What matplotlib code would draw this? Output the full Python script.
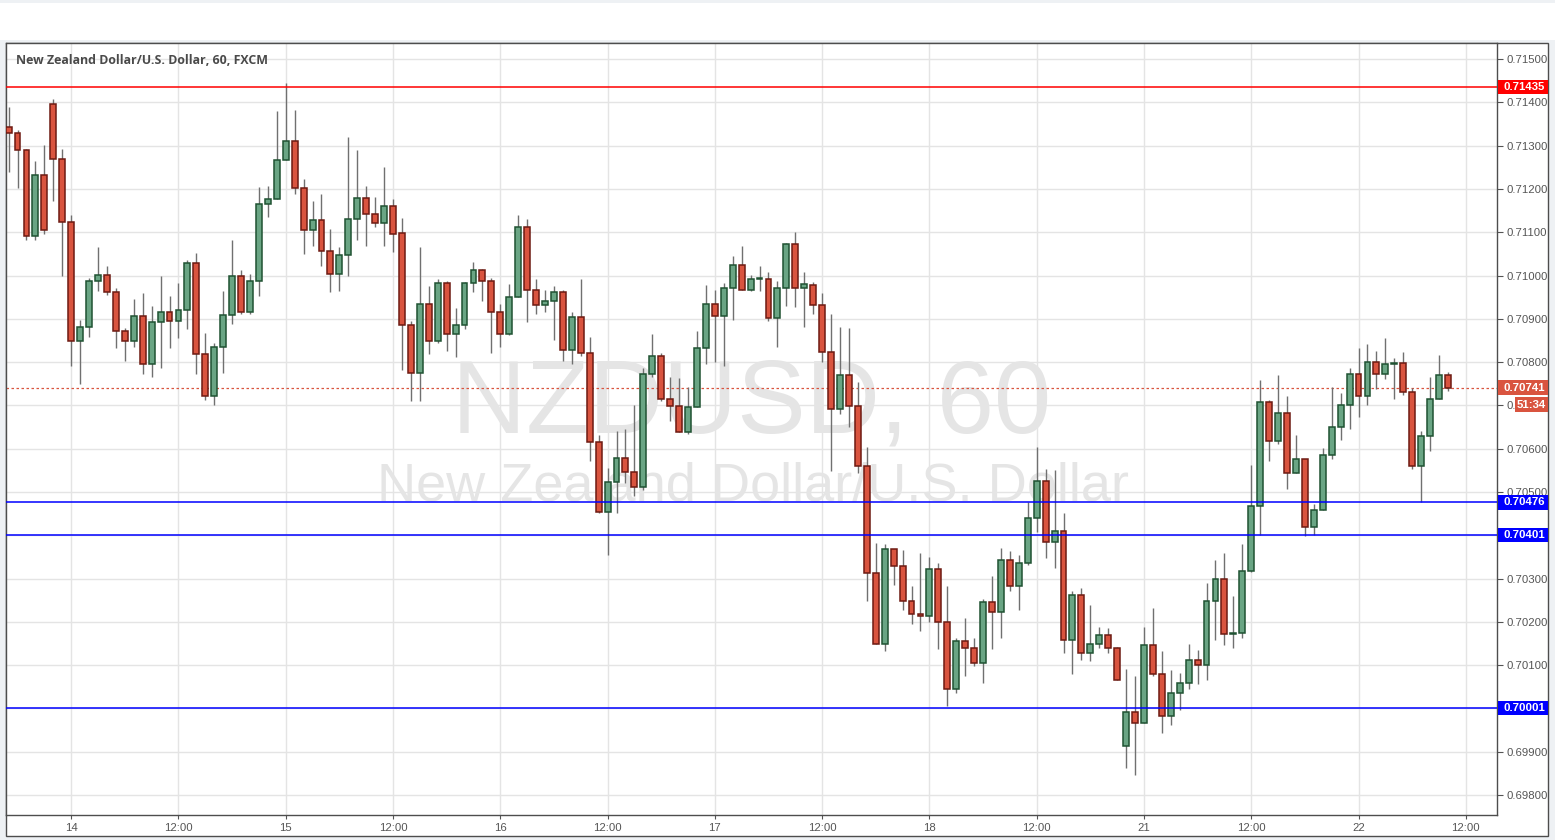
import matplotlib
matplotlib.use("Agg")
import matplotlib.pyplot as plt
from matplotlib.patches import Rectangle
from matplotlib.transforms import blended_transform_factory
import numpy as np

# ---------------- data (NZD/USD, 1h, FXCM) ----------------
opens = [0.71342, 0.71328, 0.71289, 0.71091, 0.71232, 0.71395, 0.71268, 0.71123, 0.70849, 0.70881,
         0.70987, 0.71001, 0.70962, 0.70872, 0.70849, 0.70906, 0.70796, 0.70892, 0.70916, 0.70895,
         0.70920, 0.71029, 0.70819, 0.70722, 0.70835, 0.70909, 0.70999, 0.70916, 0.70987, 0.71165,
         0.71176, 0.71266, 0.71310, 0.71202, 0.71105, 0.71128, 0.71056, 0.71003, 0.71047, 0.71130,
         0.71178, 0.71142, 0.71121, 0.71160, 0.71098, 0.70885, 0.70775, 0.70934, 0.70849, 0.70982,
         0.70865, 0.70885, 0.70982, 0.71012, 0.70987, 0.70915, 0.70865, 0.70950, 0.71112, 0.70966,
         0.70932, 0.70941, 0.70962, 0.70828, 0.70904, 0.70821, 0.70615, 0.70454, 0.70523, 0.70579,
         0.70546, 0.70512, 0.70772, 0.70814, 0.70715, 0.70699, 0.70639, 0.70696, 0.70832, 0.70934,
         0.70906, 0.70971, 0.71024, 0.70966, 0.70992, 0.70992, 0.70902, 0.70971, 0.71072, 0.70970,
         0.70978, 0.70932, 0.70824, 0.70692, 0.70771, 0.70699, 0.70561, 0.70312, 0.70150, 0.70369,
         0.70328, 0.70249, 0.70219, 0.70213, 0.70323, 0.70199, 0.70046, 0.70157, 0.70139, 0.70106,
         0.70245, 0.70222, 0.70342, 0.70282, 0.70335, 0.70441, 0.70526, 0.70385, 0.70409, 0.70159,
         0.70263, 0.70127, 0.70150, 0.70169, 0.70139, 0.69913, 0.69991, 0.69966, 0.70146, 0.70079,
         0.69982, 0.70035, 0.70058, 0.70111, 0.70101, 0.70249, 0.70299, 0.70172, 0.70174, 0.70318,
         0.70468, 0.70708, 0.70618, 0.70682, 0.70544, 0.70576, 0.70419, 0.70459, 0.70585, 0.70650,
         0.70701, 0.70772, 0.70722, 0.70800, 0.70772, 0.70795, 0.70798, 0.70731, 0.70560, 0.70629,
         0.70715, 0.70770]
highs = [0.71390, 0.71336, 0.71292, 0.71265, 0.71302, 0.71408, 0.71292, 0.71140, 0.70898, 0.70995,
         0.71066, 0.71022, 0.70972, 0.70879, 0.70946, 0.70960, 0.70930, 0.70999, 0.70953, 0.70983,
         0.71036, 0.71052, 0.70868, 0.70845, 0.70965, 0.71082, 0.71013, 0.71004, 0.71205, 0.71207,
         0.71380, 0.71444, 0.71382, 0.71223, 0.71172, 0.71188, 0.71108, 0.71066, 0.71319, 0.71290,
         0.71207, 0.71182, 0.71250, 0.71177, 0.71133, 0.70895, 0.71066, 0.70976, 0.70992, 0.70988,
         0.70925, 0.70985, 0.71032, 0.71015, 0.70995, 0.70935, 0.70981, 0.71140, 0.71131, 0.70992,
         0.70967, 0.70976, 0.70967, 0.70915, 0.70992, 0.70859, 0.70632, 0.70556, 0.70642, 0.70646,
         0.70701, 0.70786, 0.70865, 0.70821, 0.70765, 0.70763, 0.70742, 0.70872, 0.70978, 0.70967,
         0.70983, 0.71045, 0.71068, 0.71001, 0.71022, 0.71008, 0.70987, 0.71075, 0.71101, 0.71007,
         0.70985, 0.70960, 0.70910, 0.70882, 0.70878, 0.70753, 0.70603, 0.70382, 0.70379, 0.70369,
         0.70365, 0.70284, 0.70358, 0.70349, 0.70335, 0.70282, 0.70162, 0.70208, 0.70162, 0.70254,
         0.70305, 0.70371, 0.70363, 0.70354, 0.70478, 0.70603, 0.70552, 0.70550, 0.70451, 0.70272,
         0.70279, 0.70239, 0.70189, 0.70185, 0.70143, 0.70092, 0.70074, 0.70189, 0.70231, 0.70132,
         0.70089, 0.70081, 0.70150, 0.70134, 0.70290, 0.70342, 0.70358, 0.70259, 0.70381, 0.70563,
         0.70759, 0.70712, 0.70771, 0.70722, 0.70632, 0.70576, 0.70472, 0.70602, 0.70742, 0.70728,
         0.70786, 0.70832, 0.70842, 0.70825, 0.70855, 0.70809, 0.70823, 0.70740, 0.70641, 0.70765,
         0.70817, 0.70776]
lows = [0.71240, 0.71201, 0.71083, 0.71083, 0.71095, 0.71173, 0.71000, 0.70792, 0.70749, 0.70859,
        0.70965, 0.70955, 0.70832, 0.70802, 0.70836, 0.70772, 0.70765, 0.70786, 0.70832, 0.70855,
        0.70876, 0.70772, 0.70712, 0.70701, 0.70774, 0.70889, 0.70912, 0.70912, 0.70952, 0.71134,
        0.71176, 0.71266, 0.71189, 0.71049, 0.71069, 0.71023, 0.70963, 0.70965, 0.70998, 0.71082,
        0.71067, 0.71113, 0.71067, 0.71055, 0.70781, 0.70710, 0.70710, 0.70818, 0.70844, 0.70825,
        0.70811, 0.70877, 0.70962, 0.70942, 0.70822, 0.70834, 0.70862, 0.70950, 0.70892, 0.70910,
        0.70915, 0.70852, 0.70802, 0.70795, 0.70815, 0.70571, 0.70452, 0.70354, 0.70451, 0.70521,
        0.70490, 0.70505, 0.70765, 0.70710, 0.70664, 0.70639, 0.70634, 0.70696, 0.70795, 0.70800,
        0.70791, 0.70897, 0.70966, 0.70964, 0.70964, 0.70895, 0.70835, 0.70929, 0.70928, 0.70882,
        0.70912, 0.70800, 0.70549, 0.70680, 0.70650, 0.70544, 0.70249, 0.70150, 0.70133, 0.70286,
        0.70228, 0.70196, 0.70179, 0.70200, 0.70138, 0.70006, 0.70036, 0.70076, 0.70099, 0.70059,
        0.70138, 0.70163, 0.70272, 0.70228, 0.70332, 0.70408, 0.70348, 0.70325, 0.70129, 0.70080,
        0.70113, 0.70110, 0.70139, 0.70129, 0.70065, 0.69863, 0.69847, 0.69966, 0.70074, 0.69943,
        0.69963, 0.69996, 0.70044, 0.70056, 0.70066, 0.70158, 0.70146, 0.70139, 0.70162, 0.70316,
        0.70401, 0.70571, 0.70610, 0.70506, 0.70544, 0.70399, 0.70401, 0.70459, 0.70576, 0.70620,
        0.70645, 0.70673, 0.70701, 0.70738, 0.70761, 0.70715, 0.70724, 0.70553, 0.70477, 0.70595,
        0.70715, 0.70733]
closes = [0.71328, 0.71289, 0.71091, 0.71232, 0.71105, 0.71268, 0.71123, 0.70849, 0.70881, 0.70987,
          0.71001, 0.70962, 0.70872, 0.70849, 0.70906, 0.70796, 0.70892, 0.70916, 0.70895, 0.70920,
          0.71029, 0.70819, 0.70722, 0.70835, 0.70909, 0.70999, 0.70916, 0.70987, 0.71165, 0.71176,
          0.71266, 0.71310, 0.71202, 0.71105, 0.71128, 0.71056, 0.71003, 0.71047, 0.71130, 0.71178,
          0.71142, 0.71121, 0.71160, 0.71097, 0.70885, 0.70775, 0.70934, 0.70849, 0.70982, 0.70865,
          0.70885, 0.70982, 0.71012, 0.70987, 0.70915, 0.70865, 0.70950, 0.71112, 0.70966, 0.70932,
          0.70941, 0.70962, 0.70828, 0.70904, 0.70821, 0.70615, 0.70454, 0.70523, 0.70579, 0.70546,
          0.70512, 0.70772, 0.70814, 0.70715, 0.70699, 0.70639, 0.70696, 0.70832, 0.70934, 0.70906,
          0.70971, 0.71024, 0.70966, 0.70992, 0.70993, 0.70902, 0.70971, 0.71072, 0.70970, 0.70980,
          0.70932, 0.70824, 0.70692, 0.70771, 0.70699, 0.70561, 0.70312, 0.70150, 0.70369, 0.70328,
          0.70249, 0.70219, 0.70213, 0.70323, 0.70199, 0.70046, 0.70157, 0.70139, 0.70106, 0.70245,
          0.70222, 0.70342, 0.70282, 0.70335, 0.70441, 0.70526, 0.70385, 0.70409, 0.70159, 0.70263,
          0.70127, 0.70150, 0.70169, 0.70139, 0.70065, 0.69991, 0.69966, 0.70146, 0.70079, 0.69982,
          0.70035, 0.70058, 0.70111, 0.70101, 0.70249, 0.70299, 0.70172, 0.70174, 0.70318, 0.70468,
          0.70708, 0.70618, 0.70682, 0.70544, 0.70576, 0.70419, 0.70459, 0.70585, 0.70650, 0.70701,
          0.70772, 0.70722, 0.70800, 0.70772, 0.70795, 0.70798, 0.70731, 0.70560, 0.70629, 0.70715,
          0.70770, 0.70741]

# time axis: bar index of each label (Sunday 13th 17:00 = bar 0, weekend skipped)
time_tick_bars = [7, 19, 31, 43, 55, 67, 79, 91, 103, 115, 127, 139, 151, 163]
time_tick_labels = ["14", "12:00", "15", "12:00", "16", "12:00", "17", "12:00",
                    "18", "12:00", "21", "12:00", "22", "12:00"]

price_ticks = [0.698, 0.699, 0.700, 0.701, 0.702, 0.703, 0.704, 0.705, 0.706,
               0.707, 0.708, 0.709, 0.710, 0.711, 0.712, 0.713, 0.714, 0.715]

resistance = 0.71435
supports = [0.70476, 0.70401, 0.70001]
last_price = 0.70741
countdown = "51:34"

title = "New Zealand Dollar/U.S. Dollar, 60, FXCM"
wm_big = "NZDUSD, 60"
wm_small = "New Zealand Dollar/U.S. Dollar"

# ---------------- figure ----------------
W, H = 1555, 840
fig = plt.figure(figsize=(W / 100, H / 100), dpi=100)
fig.patch.set_facecolor("#eef1f4")
AXFONT = ["Liberation Sans", "DejaVu Sans"]

def fx(px):
    return px / W

def fy(py):
    return 1 - py / H

# white top strip
fig.add_artist(Rectangle((0, fy(40)), 1, (40 - 3) / H, transform=fig.transFigure,
                         facecolor="white", edgecolor="none", zorder=-3))
# outer panel
fig.add_artist(Rectangle((fx(6), fy(836)), fx(1548 - 6), (836 - 43) / H, transform=fig.transFigure,
                         facecolor="white", edgecolor="#4d4d4d", lw=1.0, zorder=-2))

L, R, T, B = 6, 1497, 43, 815
ax = fig.add_axes([fx(L), fy(B), fx(R - L), (B - T) / H])
ax.set_facecolor("white")

x = np.arange(len(opens))
o = np.array(opens); h = np.array(highs); l = np.array(lows); c = np.array(closes)
up = c >= o

red_fill, red_edge = "#d9543f", "#6d1a12"
grn_fill, grn_edge = "#6aa584", "#1f5232"

# wicks
ax.vlines(x, l, h, color="#707070", lw=1.0, zorder=3)
# bodies
bottoms = np.minimum(o, c)
heights = np.maximum(np.abs(c - o), 0.000025)
ax.bar(x[up], heights[up], bottom=bottoms[up], width=0.66, color=grn_fill,
       edgecolor=grn_edge, linewidth=1.1, zorder=4)
ax.bar(x[~up], heights[~up], bottom=bottoms[~up], width=0.66, color=red_fill,
       edgecolor=red_edge, linewidth=1.1, zorder=4)

# limits
ax.set_xlim(-0.29, 166.49)
ax.set_ylim(0.69754, 0.71537)

# grid / ticks
ax.set_xticks(time_tick_bars)
ax.set_xticklabels(time_tick_labels, family=AXFONT)
ax.set_yticks(price_ticks)
ax.set_yticklabels([f"{v:.5f}" for v in price_ticks], family=AXFONT)
ax.grid(True, color="#e4e4e4", lw=1.0, zorder=0)
ax.set_axisbelow(True)

ax.yaxis.tick_right()
ax.tick_params(axis="y", direction="out", length=4, width=0.8, colors="#555555",
               labelsize=8.2, pad=3)
ax.tick_params(axis="x", direction="out", length=3, width=0.8, colors="#555555",
               labelsize=8.2, pad=3)
for s in ax.spines.values():
    s.set_color("#4d4d4d")
    s.set_linewidth(1.0)

# watermark
ax.text(0.5003, 0.496, wm_big, transform=ax.transAxes, ha="center", va="baseline",
        fontsize=74, family="Liberation Sans", color="#e5e5e5", zorder=1)
ax.text(0.5007, 0.408, wm_small, transform=ax.transAxes, ha="center", va="baseline",
        fontsize=39, family="Liberation Sans", color="#e5e5e5", zorder=1)

# title
ax.text((16 - L) / (R - L), 1 - (60 - T) / (B - T), title, transform=ax.transAxes,
        ha="left", va="center", fontsize=8.9, fontweight="bold", family="Open Sans",
        color="#4a4a4a", zorder=6)

# horizontal levels
ax.axhline(resistance, color="#ff0000", lw=1.1, zorder=5)
for s_ in supports:
    ax.axhline(s_, color="#0000ff", lw=1.1, zorder=5)
ax.axhline(last_price, color="#d9543f", lw=0.9, ls=(0, (2, 2)), zorder=2)

# price labels on the axis
trans = blended_transform_factory(ax.transAxes, ax.transData)
px_per_unit = (B - T) / (0.71537 - 0.69754)
box_h = 14.5 / px_per_unit
x0 = (1498 - L) / (R - L)
bw = (1548 - 1498) / (R - L)

def axis_label(val, text, color):
    ax.add_patch(Rectangle((x0, val - box_h / 2), bw, box_h, transform=trans,
                           facecolor=color, edgecolor="none", clip_on=False, zorder=7))
    ax.text((1504 - L) / (R - L), val, text, transform=trans, ha="left", va="center",
            fontsize=8.2, fontweight="bold", family=AXFONT, color="white",
            clip_on=False, zorder=8)

axis_label(resistance, f"{resistance:.5f}", "#ff0000")
for s_ in supports:
    axis_label(s_, f"{s_:.5f}", "#0000ff")
axis_label(last_price, f"{last_price:.5f}", "#d9543f")

# countdown box (partly covering the 0.70700 tick label, as in the original)
cd_val = last_price - 17 / px_per_unit
cx0 = (1515 - L) / (R - L)
cw = (1548 - 1515) / (R - L)
ax.add_patch(Rectangle((cx0, cd_val - box_h / 2), cw, box_h, transform=trans,
                       facecolor="#d9543f", edgecolor="none", clip_on=False, zorder=7))
ax.text(cx0 + cw / 2, cd_val, countdown, transform=trans, ha="center", va="center",
        fontsize=8.2, fontweight="bold", family=AXFONT, color="white",
        clip_on=False, zorder=8)

fig.savefig("out.png", dpi=100)
